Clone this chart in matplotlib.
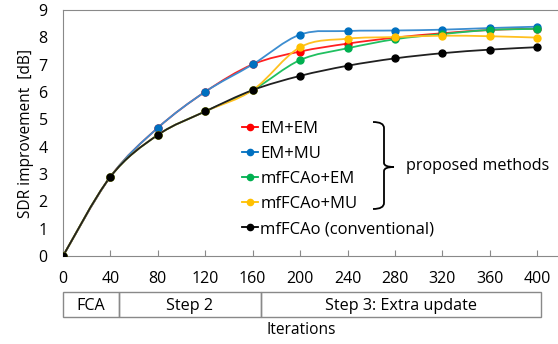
import matplotlib
matplotlib.use('Agg')
import matplotlib.pyplot as plt
from matplotlib.path import Path
from matplotlib.patches import PathPatch, Rectangle
import matplotlib.transforms as mtransforms
import numpy as np

plt.rcParams['font.family'] = ['Open Sans', 'DejaVu Sans']

iterations = [0, 40, 80, 120, 160, 200, 240, 280, 320, 360, 400]
em_em = [0, 2.90, 4.69, 6.01, 7.01, 7.48, 7.77, 7.99, 8.15, 8.27, 8.32]
em_mu = [0, 2.90, 4.69, 6.01, 7.01, 8.10, 8.23, 8.25, 8.28, 8.34, 8.39]
mf_em = [0, 2.90, 4.43, 5.29, 6.07, 7.17, 7.60, 7.93, 8.12, 8.27, 8.31]
mf_mu = [0, 2.90, 4.43, 5.29, 6.07, 7.64, 7.95, 8.01, 8.06, 8.04, 7.99]
mf_conv = [0, 2.90, 4.43, 5.29, 6.07, 6.59, 6.96, 7.23, 7.42, 7.55, 7.64]

labels = ['EM+EM', 'EM+MU', 'mfFCAo+EM', 'mfFCAo+MU', 'mfFCAo (conventional)']
series = [em_em, em_mu, mf_em, mf_mu, mf_conv]
colors = ['#FF0000', '#0070C0', '#00B050', '#FFC000', '#000000']
line_colors = ['#FF2020', '#3C8DD0', '#20C060', '#FFC020', '#202020']

stages = ['FCA', 'Step 2', 'Step 3: Extra update']
stage_edges = [0, 47, 167, 403]


def smooth_path(x, y):
    # Excel-style smoothed line: cubic Bezier through the points
    p = np.column_stack([x, y]).astype(float)
    pp = np.vstack([p[0], p, p[-1]])
    verts = [p[0]]
    codes = [Path.MOVETO]
    for i in range(len(p) - 1):
        c1 = pp[i + 1] + (pp[i + 2] - pp[i]) / 6.0
        c2 = pp[i + 2] - (pp[i + 3] - pp[i + 1]) / 6.0
        verts += [c1, c2, p[i + 1]]
        codes += [Path.CURVE4] * 3
    return Path(verts, codes)


fig = plt.figure(figsize=(5.58, 3.44), dpi=100)
W, H = 558.0, 344.0
ax = fig.add_axes([63 / W, 1 - 256 / H, 1 - 63 / W, 246 / H])

handles = []
for i in range(len(series)):
    ax.add_patch(PathPatch(smooth_path(iterations, series[i]), fc='none',
                           ec=line_colors[i], lw=1.3, zorder=2 + i * 0.1))
    ax.plot(iterations, series[i], ls='none', marker='o', ms=5,
            color=colors[i], zorder=3 + i * 0.1)
    handles.append(ax.plot([], [], '-', marker='o', ms=4.5, lw=1.3,
                           color=colors[i])[0])

ax.set_xlim(0, 417.5)
ax.set_ylim(0, 9)
ax.set_xticks(iterations)
ax.set_yticks(range(10))
ax.tick_params(axis='x', direction='in', length=4, color='#898989',
               labelsize=11.5, pad=11)
ax.tick_params(axis='y', length=0, labelsize=11.5, pad=11)
for s in ['left', 'bottom', 'top']:
    ax.spines[s].set_color('#898989')
ax.spines['right'].set_visible(False)

ax.set_ylabel('SDR improvement  [dB]', fontsize=11.2, labelpad=3)
fig.text(301 / W, 1 - 330 / H, 'Iterations', ha='center', va='center',
         fontsize=11.2)

# stage table under the axis
trans = mtransforms.blended_transform_factory(ax.transData, ax.transAxes)
y0 = (256 - 317) / 246.0
y1 = (256 - 292) / 246.0
for k, name in enumerate(stages):
    a, b = stage_edges[k], stage_edges[k + 1]
    ax.add_patch(Rectangle((a, y0), b - a, y1 - y0, transform=trans,
                           fc='none', ec='#898989', lw=1, clip_on=False))
    ax.text((a + b) / 2, (y0 + y1) / 2, name, transform=trans, ha='center',
            va='center_baseline', fontsize=11.6, clip_on=False)

leg = ax.legend(handles, labels, loc='upper left',
                bbox_to_anchor=(242 / W, 1 - 121 / H),
                bbox_transform=fig.transFigure, frameon=False,
                handlelength=0.95, handletextpad=0.15, labelspacing=0.54,
                borderaxespad=0, borderpad=0, fontsize=12)

# brace for the proposed methods
bx, by_top, by_bot, by_mid = 373, 122, 209, 167
bverts = [(bx, by_top), (bx + 11, by_top), (bx + 11, by_top + 6),
          (bx + 11, by_mid - 4), (bx + 11, by_mid), (bx + 21, by_mid),
          (bx + 11, by_mid), (bx + 11, by_mid + 4),
          (bx + 11, by_bot - 6), (bx + 11, by_bot), (bx, by_bot)]
bverts = [(u / W, 1 - v / H) for u, v in bverts]
bcodes = [Path.MOVETO, Path.CURVE3, Path.CURVE3, Path.LINETO, Path.CURVE3,
          Path.CURVE3, Path.CURVE3, Path.CURVE3, Path.LINETO, Path.CURVE3,
          Path.CURVE3]
fig.add_artist(PathPatch(Path(bverts, bcodes), fc='none', ec='black', lw=1.3,
                         transform=fig.transFigure))
fig.text(406 / W, 1 - 166 / H, 'proposed methods', ha='left', va='center',
         fontsize=11.6)

fig.savefig('out.png', dpi=100)
